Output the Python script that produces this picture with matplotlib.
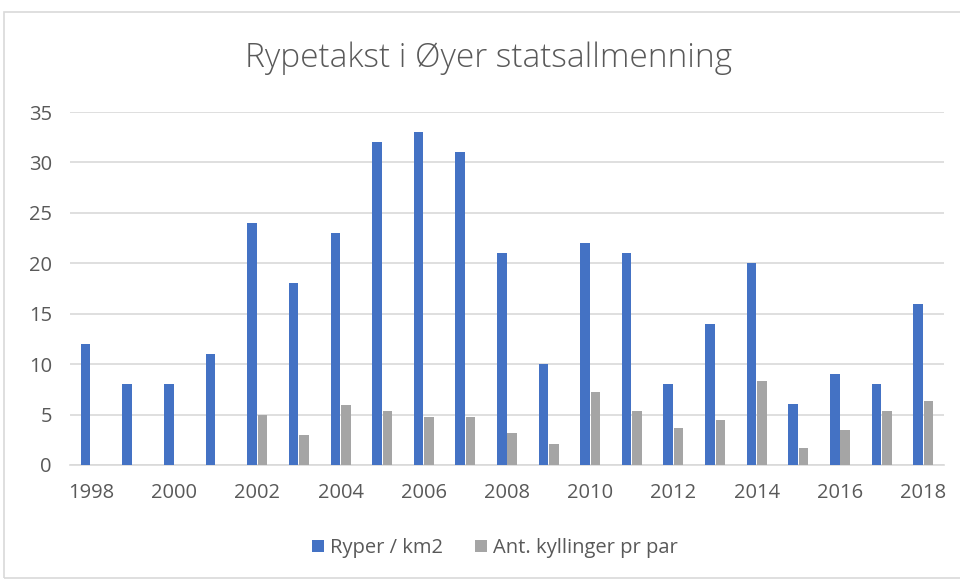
import numpy as np
import matplotlib.pyplot as plt
from matplotlib.patches import Rectangle

years = list(range(1998, 2019))
ryper = [12, 8, 8, 11, 24, 18, 23, 32, 33, 31, 21, 10, 22, 21, 8, 14, 20, 6, 9, 8, 16]
kyllinger = [np.nan, np.nan, np.nan, np.nan, 5.0, 3.0, 5.9, 5.4, 4.8, 4.8, 3.2, 2.1,
             7.2, 5.4, 3.7, 4.5, 8.3, 1.7, 3.5, 5.4, 6.3]
yticks = [0, 5, 10, 15, 20, 25, 30, 35]

plt.rcParams['font.family'] = ['Open Sans', 'DejaVu Sans']

fig = plt.figure(figsize=(9.6, 5.81), dpi=100)
fig.patches.append(Rectangle((4 / 960, 3 / 581), 1.1, 1 - 15 / 581, transform=fig.transFigure,
                             fill=False, edgecolor='#d9d9d9', linewidth=1.2))
ax = fig.add_axes([70 / 960, 1 - 465 / 581, 874 / 960, (465 - 112) / 581])

x = np.arange(len(years))
w = 0.23
ax.bar(x - w / 2 - 0.01, ryper, w, color='#4472C4', label='Ryper / km2', zorder=3)
ax.bar(x + w / 2 + 0.01, kyllinger, w, color='#A5A5A5', label='Ant. kyllinger pr par', zorder=3)

ax.set_xlim(-0.5, len(years) - 0.5)
ax.set_ylim(0, 35)
ax.set_yticks(yticks)
ax.set_xticks(x[::2])
ax.set_xticklabels([str(y) for y in years[::2]])
ax.grid(axis='y', color='#d9d9d9', linewidth=1.2, zorder=0)
for s in ['top', 'right', 'left']:
    ax.spines[s].set_visible(False)
ax.spines['bottom'].set_color('#d9d9d9')
ax.spines['bottom'].set_linewidth(1.2)
ax.tick_params(length=0, labelsize=14.5, labelcolor='#595959')
ax.tick_params(axis='x', pad=13)
ax.tick_params(axis='y', pad=13)

fig.text(489 / 960, 1 - 58 / 581, 'Rypetakst i Øyer statsallmenning', ha='center', va='center',
         fontsize=24, color='#595959', fontweight='light')

fig.legend(loc='center', bbox_to_anchor=(495 / 960, 1 - 548 / 581), ncol=2, frameon=False,
           fontsize=14.5, labelcolor='#595959', handlelength=0.6, handleheight=0.6,
           handletextpad=0.3, columnspacing=1.6)

fig.savefig('out.png', dpi=100)
